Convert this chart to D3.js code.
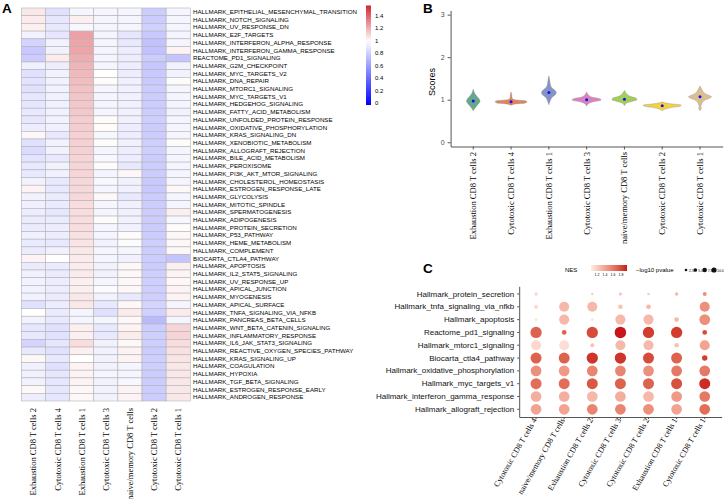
<!DOCTYPE html>
<html>
<head>
<meta charset="utf-8">
<script src="https://cdn.jsdelivr.net/npm/d3@7"></script>
<style>
  body { margin: 0; background: #fff; }
  svg text { font-family: "Liberation Sans", Arial, sans-serif; }
  .serif { font-family: "Liberation Serif", "Times New Roman", serif !important; }
</style>
</head>
<body>
<div id="chart"></div>
<script>
// ---- data ----
var cellTypes = ["Exhaustion CD8 T cells 2", "Cytotoxic CD8  T cells 4", "Exhaustion CD8 T cells 1",
    "Cytotoxic CD8  T cells 3", "naive/memory CD8 T cells", "Cytotoxic CD8  T cells 2", "Cytotoxic CD8  T cells 1"];

var heatRows = ["HALLMARK_EPITHELIAL_MESENCHYMAL_TRANSITION", "HALLMARK_NOTCH_SIGNALING", "HALLMARK_UV_RESPONSE_DN",
    "HALLMARK_E2F_TARGETS", "HALLMARK_INTERFERON_ALPHA_RESPONSE", "HALLMARK_INTERFERON_GAMMA_RESPONSE",
    "REACTOME_PD1_SIGNALING", "HALLMARK_G2M_CHECKPOINT", "HALLMARK_MYC_TARGETS_V2", "HALLMARK_DNA_REPAIR",
    "HALLMARK_MTORC1_SIGNALING", "HALLMARK_MYC_TARGETS_V1", "HALLMARK_HEDGEHOG_SIGNALING",
    "HALLMARK_FATTY_ACID_METABOLISM", "HALLMARK_UNFOLDED_PROTEIN_RESPONSE", "HALLMARK_OXIDATIVE_PHOSPHORYLATION",
    "HALLMARK_KRAS_SIGNALING_DN", "HALLMARK_XENOBIOTIC_METABOLISM", "HALLMARK_ALLOGRAFT_REJECTION",
    "HALLMARK_BILE_ACID_METABOLISM", "HALLMARK_PEROXISOME", "HALLMARK_PI3K_AKT_MTOR_SIGNALING",
    "HALLMARK_CHOLESTEROL_HOMEOSTASIS", "HALLMARK_ESTROGEN_RESPONSE_LATE", "HALLMARK_GLYCOLYSIS",
    "HALLMARK_MITOTIC_SPINDLE", "HALLMARK_SPERMATOGENESIS", "HALLMARK_ADIPOGENESIS", "HALLMARK_PROTEIN_SECRETION",
    "HALLMARK_P53_PATHWAY", "HALLMARK_HEME_METABOLISM", "HALLMARK_COMPLEMENT", "BIOCARTA_CTLA4_PATHWAY",
    "HALLMARK_APOPTOSIS", "HALLMARK_IL2_STAT5_SIGNALING", "HALLMARK_UV_RESPONSE_UP", "HALLMARK_APICAL_JUNCTION",
    "HALLMARK_MYOGENESIS", "HALLMARK_APICAL_SURFACE", "HALLMARK_TNFA_SIGNALING_VIA_NFKB",
    "HALLMARK_PANCREAS_BETA_CELLS", "HALLMARK_WNT_BETA_CATENIN_SIGNALING", "HALLMARK_INFLAMMATORY_RESPONSE",
    "HALLMARK_IL6_JAK_STAT3_SIGNALING", "HALLMARK_REACTIVE_OXYGEN_SPECIES_PATHWAY", "HALLMARK_KRAS_SIGNALING_UP",
    "HALLMARK_COAGULATION", "HALLMARK_HYPOXIA", "HALLMARK_TGF_BETA_SIGNALING", "HALLMARK_ESTROGEN_RESPONSE_EARLY",
    "HALLMARK_ANDROGEN_RESPONSE"];

// one row per pathway, columns follow cellTypes
var heatValues = [
    [1.06, 0.88, 0.96, 0.96, 0.96, 0.80, 0.96],
    [1.05, 0.90, 1.04, 0.96, 0.96, 0.80, 0.96],
    [1.04, 0.91, 0.97, 0.96, 0.96, 0.82, 0.96],
    [0.95, 0.90, 1.24, 0.96, 0.90, 0.79, 0.96],
    [0.83, 0.95, 1.23, 0.96, 0.91, 0.76, 0.96],
    [0.79, 0.95, 1.23, 0.96, 0.93, 0.76, 1.03],
    [0.80, 1.05, 1.21, 0.96, 0.93, 0.80, 0.77],
    [0.94, 0.93, 1.19, 0.96, 0.93, 0.78, 0.95],
    [0.88, 0.95, 1.18, 1.00, 0.93, 0.79, 0.95],
    [0.89, 0.95, 1.17, 1.01, 0.94, 0.79, 1.01],
    [0.88, 0.95, 1.16, 0.96, 0.94, 0.80, 0.96],
    [0.90, 0.94, 1.15, 0.96, 0.94, 0.80, 0.96],
    [0.90, 0.94, 1.14, 0.96, 0.94, 0.80, 0.96],
    [0.91, 0.94, 1.14, 0.96, 0.94, 0.80, 0.95],
    [0.90, 0.95, 1.13, 1.01, 0.94, 0.81, 0.96],
    [0.93, 0.94, 1.13, 1.01, 0.93, 0.80, 0.96],
    [1.02, 0.91, 1.12, 0.97, 0.93, 0.80, 0.96],
    [0.88, 0.95, 1.12, 1.01, 0.94, 0.81, 1.01],
    [0.86, 0.95, 1.12, 0.96, 0.93, 0.81, 0.96],
    [0.89, 0.91, 1.11, 0.97, 0.93, 0.80, 0.96],
    [0.91, 0.95, 1.11, 1.01, 0.91, 0.80, 0.96],
    [0.91, 0.95, 1.11, 0.96, 1.02, 0.80, 0.96],
    [0.95, 0.91, 1.10, 0.97, 0.94, 0.79, 0.96],
    [1.03, 0.91, 1.10, 0.96, 0.94, 0.79, 1.02],
    [0.95, 0.92, 1.10, 1.02, 0.91, 0.80, 0.96],
    [0.94, 0.92, 1.09, 0.96, 0.94, 0.80, 0.96],
    [0.93, 0.90, 1.09, 0.96, 0.94, 0.80, 1.04],
    [0.92, 0.92, 1.09, 1.01, 0.94, 0.80, 0.97],
    [0.92, 0.93, 1.09, 0.96, 0.94, 0.80, 1.01],
    [0.94, 0.93, 1.08, 0.96, 1.01, 0.80, 1.02],
    [0.92, 0.91, 1.07, 0.95, 0.99, 0.81, 1.02],
    [0.92, 0.94, 1.06, 0.96, 0.96, 0.80, 1.02],
    [1.03, 1.00, 1.05, 0.96, 0.94, 0.80, 0.77],
    [0.92, 0.92, 1.05, 0.95, 1.02, 0.80, 1.04],
    [0.94, 0.92, 1.05, 0.95, 1.02, 0.81, 1.03],
    [0.95, 0.93, 1.04, 0.96, 1.02, 0.81, 1.02],
    [0.95, 0.93, 1.04, 0.98, 1.02, 0.81, 1.03],
    [0.95, 0.92, 1.06, 0.95, 0.91, 0.81, 1.03],
    [0.88, 0.93, 1.06, 0.91, 1.02, 0.83, 0.96],
    [1.00, 0.92, 0.96, 0.88, 1.05, 0.82, 1.05],
    [0.95, 0.91, 0.96, 0.96, 1.02, 0.73, 0.96],
    [0.90, 0.88, 1.04, 0.91, 1.03, 0.80, 1.11],
    [0.91, 0.88, 1.04, 0.91, 1.05, 0.81, 1.11],
    [0.83, 0.90, 1.09, 0.95, 1.02, 0.81, 1.09],
    [0.91, 0.88, 1.04, 0.95, 1.03, 0.80, 1.08],
    [1.02, 0.91, 1.00, 0.95, 1.03, 0.81, 1.07],
    [0.94, 0.88, 1.03, 0.95, 0.96, 0.81, 1.06],
    [0.94, 0.90, 1.03, 0.96, 0.96, 0.80, 1.06],
    [0.95, 0.90, 1.03, 0.95, 0.97, 0.80, 1.06],
    [1.02, 0.90, 1.02, 0.95, 1.03, 0.80, 1.06],
    [0.93, 0.90, 1.02, 0.95, 1.03, 0.80, 1.06]
];
var heatLegendTicks = [0, 0.2, 0.4, 0.6, 0.8, 1, 1.2, 1.4];

// violin density profiles: [score, density]
var violinProfiles = [
    [[0.74,0],[0.80,0.08],[0.88,0.22],[0.95,0.33],[1.00,0.32],[1.07,0.2],[1.15,0.07],[1.25,0]],
    [[0.87,0],[0.90,0.2],[0.925,0.72],[0.95,0.8],[0.975,0.7],[1.0,0.18],[1.03,0.06],[1.08,0.04],[1.13,0.03],[1.18,0]],
    [[0.88,0],[0.95,0.05],[1.05,0.15],[1.12,0.33],[1.17,0.37],[1.22,0.3],[1.30,0.12],[1.40,0.06],[1.50,0.03],[1.56,0]],
    [[0.85,0],[0.90,0.07],[0.95,0.32],[0.98,0.66],[1.00,0.73],[1.03,0.6],[1.07,0.2],[1.12,0.07],[1.18,0]],
    [[0.86,0],[0.92,0.1],[0.97,0.45],[1.00,0.62],[1.03,0.6],[1.08,0.28],[1.14,0.1],[1.22,0]],
    [[0.74,0],[0.78,0.15],[0.82,0.5],[0.85,0.9],[0.87,0.95],[0.90,0.5],[0.93,0.1],[0.95,0]],
    [[0.74,0],[0.78,0.05],[0.80,0.07],[0.83,0.04],[0.90,0.08],[0.98,0.2],[1.04,0.5],[1.07,0.58],[1.10,0.45],[1.16,0.2],[1.25,0.08],[1.32,0]]
];
var violinMeans = [0.97, 0.95, 1.17, 1.00, 1.01, 0.86, 1.07];
var violinColors = ["#66a98a", "#e3845a", "#8593c6", "#da82c0", "#a2cf55", "#f4d23a", "#dcbf8f"];
var scoreTicks = [0, 1, 2, 3];

// dot plot
var dotCols = ["Cytotoxic CD8  T cells 4", "naive/memory CD8 T cells", "Exhaustion CD8 T cells 2",
    "Cytotoxic CD8  T cells 3", "Cytotoxic CD8  T cells 2", "Exhaustion CD8 T cells 1", "Cytotoxic CD8  T cells 1"];
var dotRows = ["Hallmark_protein_secretion", "Hallmark_tnfa_signaling_via_nfkb", "Hallmark_apoptosis",
    "Reactome_pd1_signaling", "Hallmark_mtorc1_signaling", "Biocarta_ctla4_pathway",
    "Hallmark_oxidative_phosphorylation", "Hallmark_myc_targets_v1", "Hallmark_interferon_gamma_response",
    "Hallmark_allograft_rejection"];
var dotNES = [
    [1.15, null, 1.20, 1.25, 1.20, 1.30, 1.50],
    [1.15, 1.30, 1.30, 1.25, 1.30, null, 1.50],
    [1.10, 1.30, 1.10, 1.30, 1.30, 1.30, 1.50],
    [1.70, 1.70, 1.80, 1.95, 1.85, 1.85, 1.80],
    [1.15, 1.12, 1.25, 1.30, 1.30, 1.25, 1.40],
    [1.70, 1.70, 1.88, 1.88, 1.80, 1.70, 1.85],
    [1.50, 1.45, 1.55, 1.55, 1.50, 1.60, 1.60],
    [1.65, 1.65, 1.75, 1.70, 1.70, 1.78, 1.90],
    [1.35, 1.35, 1.30, 1.35, 1.30, 1.45, 1.60],
    [1.40, 1.40, 1.55, 1.55, 1.50, 1.40, 1.65]
];
var dotLogP = [
    [0.9, null, 0.5, 0.7, 0.5, 0.9, 1.2],
    [1.2, 7.5, 7.5, 1.6, 1.6, null, 7.5],
    [0.5, 7.5, 0.5, 7.5, 7.5, 1.6, 8.5],
    [9.5, 1.6, 9.5, 9.8, 9.5, 9.5, 1.6],
    [7.5, 7.5, 1.2, 7.5, 7.5, 1.6, 7.5],
    [9.0, 9.0, 9.5, 9.5, 9.0, 9.0, 2.2],
    [8.5, 8.5, 8.5, 8.5, 8.5, 8.5, 8.5],
    [9.0, 9.0, 9.0, 9.0, 9.0, 9.0, 9.0],
    [8.5, 8.5, 8.5, 8.5, 8.5, 8.5, 8.5],
    [8.5, 8.5, 8.5, 8.5, 8.5, 8.5, 8.5]
];
var nesTicks = [1.2, 1.4, 1.6, 1.8];
var pTicks = [2.5, 5.0, 7.5, 10.0];

// ---- drawing ----
var svg = d3.select("#chart").append("svg")
    .attr("width", 724)
    .attr("height", 499);

function panelLetter(t, x, y) {
    svg.append("text").attr("x", x).attr("y", y).text(t)
        .attr("font-size", 13.5).attr("font-weight", "bold");
}

// Panel A: heatmap
panelLetter("A", 2, 12.5);
var hx = d3.scaleBand().domain(cellTypes).range([21.3, 190.3]);
var hy = d3.scaleBand().domain(heatRows).range([8, 401]);
var heatColor = d3.scaleLinear().domain([0, 1, 1.56]).range(["#0000ff", "#ffffff", "#d42430"]);

var gA = svg.append("g");
heatRows.forEach(function(r, i) {
    gA.selectAll(".row" + i).data(heatValues[i]).enter().append("rect")
        .attr("x", function(d, j) { return hx(cellTypes[j]); })
        .attr("y", hy(r))
        .attr("width", hx.bandwidth())
        .attr("height", hy.bandwidth())
        .attr("fill", function(d) { return heatColor(d); })
        .attr("stroke", "#b4b4b4")
        .attr("stroke-width", 0.6);
});
gA.selectAll(".rlab").data(heatRows).enter().append("text")
    .attr("x", 193)
    .attr("y", function(d) { return hy(d) + hy.bandwidth() / 2; })
    .attr("dy", "0.35em")
    .attr("font-size", 6.2)
    .text(function(d) { return d; });
gA.selectAll(".clab").data(cellTypes).enter().append("text")
    .attr("class", "serif")
    .attr("transform", function(d) { return "translate(" + (hx(d) + hx.bandwidth() / 2 + 3) + ",408) rotate(-90)"; })
    .attr("text-anchor", "end")
    .attr("font-size", 8.5)
    .text(function(d) { return d; });

// heatmap legend
var defs = svg.append("defs");
var lgA = defs.append("linearGradient").attr("id", "gradA")
    .attr("x1", 0).attr("y1", 1).attr("x2", 0).attr("y2", 0);
d3.range(0, 1.0001, 0.05).forEach(function(t) {
    lgA.append("stop").attr("offset", t).attr("stop-color", heatColor(t * 1.56));
});
var legAy = d3.scaleLinear().domain([0, 1.56]).range([103, 5.5]);
svg.append("rect").attr("x", 366).attr("y", legAy(1.56)).attr("width", 5)
    .attr("height", legAy(0) - legAy(1.56) + 2).attr("fill", "url(#gradA)");
svg.selectAll(".legA").data(heatLegendTicks).enter().append("text")
    .attr("x", 375).attr("y", function(d) { return legAy(d); })
    .attr("dy", "0.35em").attr("font-size", 6)
    .text(function(d) { return d; });

// Panel B: violins
panelLetter("B", 423, 13);
var bx = d3.scaleBand().domain(cellTypes).range([450.6, 722.7]).paddingInner(0).paddingOuter(0.1);
var by = d3.scaleLinear().domain([-0.1, 3.1]).range([146.5, 10.4]);
var bw = d3.scaleLinear().domain([0, 1]).range([0, 20]);

var gB = svg.append("g");
gB.append("g").attr("transform", "translate(450.6,0)")
    .call(d3.axisLeft(by).tickValues(scoreTicks).tickSize(3).tickSizeOuter(0).tickFormat(d3.format("d")))
    .call(function(g) {
        g.select(".domain").attr("stroke", "#555");
        g.selectAll(".tick line").attr("stroke", "#555");
        g.selectAll("text").attr("font-size", 7).attr("fill", "#4d4d4d");
    });
gB.append("g").attr("transform", "translate(0,146.5)")
    .call(d3.axisBottom(bx).tickSize(3).tickSizeOuter(0).tickFormat(""))
    .call(function(g) {
        g.select(".domain").attr("stroke", "#555");
        g.selectAll(".tick line").attr("stroke", "#555");
    });
gB.append("text")
    .attr("transform", "translate(435,82) rotate(-90)")
    .attr("text-anchor", "middle").attr("font-size", 9)
    .text("Scores");

cellTypes.forEach(function(c, i) {
    var cx = bx(c) + bx.bandwidth() / 2;
    var area = d3.area()
        .y(function(d) { return by(d[0]); })
        .x0(function(d) { return cx - bw(d[1]); })
        .x1(function(d) { return cx + bw(d[1]); })
        .curve(d3.curveCatmullRom);
    gB.append("path").datum(violinProfiles[i])
        .attr("d", area)
        .attr("fill", violinColors[i])
        .attr("stroke", "#8a8a8a")
        .attr("stroke-width", 0.4);
    gB.append("circle").attr("cx", cx).attr("cy", by(violinMeans[i]))
        .attr("r", 1.5).attr("fill", "#1010ff");
});
gB.selectAll(".blab").data(cellTypes).enter().append("text")
    .attr("class", "serif")
    .attr("transform", function(d) { return "translate(" + (bx(d) + bx.bandwidth() / 2 + 3) + ",152) rotate(-90)"; })
    .attr("text-anchor", "end")
    .attr("font-size", 8.5)
    .text(function(d) { return d; });

// Panel C: dot plot
panelLetter("C", 423, 273);
var cx = d3.scaleBand().domain(dotCols).range([519.2, 721.6]).paddingInner(0).paddingOuter(0.1);
var cy = d3.scaleBand().domain(dotRows).range([286.3, 417]).paddingInner(0).paddingOuter(0.1);
var nesColor = d3.scaleLinear().domain([1.05, 1.95]).range(["#fcece6", "#c8171c"]).interpolate(d3.interpolateLab);
var rScale = d3.scaleSqrt().domain([0, 10]).range([0, 5.8]);

var gC = svg.append("g");
gC.append("g").attr("transform", "translate(519.2,0)")
    .call(d3.axisLeft(cy).tickSize(2).tickSizeOuter(0))
    .call(function(g) {
        g.select(".domain").attr("stroke", "#555");
        g.selectAll(".tick line").attr("stroke", "#555");
        g.selectAll("text").attr("font-size", 8).attr("fill", "#111");
    });
gC.append("g").attr("transform", "translate(0,417)")
    .call(d3.axisBottom(cx).tickSize(2).tickSizeOuter(0).tickFormat(""))
    .call(function(g) {
        g.select(".domain").attr("stroke", "#555");
        g.selectAll(".tick line").attr("stroke", "#555");
    });
dotRows.forEach(function(r, i) {
    gC.selectAll(".drow" + i).data(dotCols.map(function(c, j) { return { c: c, nes: dotNES[i][j], p: dotLogP[i][j] }; })
            .filter(function(d) { return d.nes != null; }))
        .enter().append("circle")
        .attr("cx", function(d) { return cx(d.c) + cx.bandwidth() / 2; })
        .attr("cy", cy(r) + cy.bandwidth() / 2)
        .attr("r", function(d) { return rScale(d.p); })
        .attr("fill", function(d) { return nesColor(d.nes); });
});
gC.selectAll(".clab").data(dotCols).enter().append("text")
    .attr("class", "serif")
    .attr("transform", function(d) { return "translate(" + (cx(d) + cx.bandwidth() / 2 + 1) + ",420) rotate(-60)"; })
    .attr("text-anchor", "end")
    .attr("font-size", 8)
    .text(function(d) { return d; });

// legends for C
var legY = 270;
svg.append("text").attr("x", 565).attr("y", legY + 2).attr("font-size", 6).text("NES");
var lgC = defs.append("linearGradient").attr("id", "gradC");
d3.range(0, 1.0001, 0.1).forEach(function(t) {
    lgC.append("stop").attr("offset", t).attr("stop-color", nesColor(1.05 + t * 0.9));
});
var legCx = d3.scaleLinear().domain([1.05, 1.95]).range([591, 627]);
svg.append("rect").attr("x", 591).attr("y", legY - 5).attr("width", 36).attr("height", 6).attr("fill", "url(#gradC)");
svg.selectAll(".legC").data(nesTicks).enter().append("text")
    .attr("x", function(d) { return legCx(d); }).attr("y", legY + 6)
    .attr("text-anchor", "middle").attr("font-size", 3.5)
    .text(function(d) { return d.toFixed(1); });

svg.append("text").attr("x", 636).attr("y", legY + 2).attr("font-size", 6).text("\u2212log10 pvalue");
var legPx = d3.scalePoint().domain(pTicks).range([686, 714]);
svg.selectAll(".legP").data(pTicks).enter().append("circle")
    .attr("cx", function(d) { return legPx(d); }).attr("cy", legY)
    .attr("r", function(d) { return rScale(d) * 0.45; }).attr("fill", "#111");
svg.selectAll(".legPt").data(pTicks).enter().append("text")
    .attr("x", function(d) { return legPx(d) + 3; }).attr("y", legY + 1.5)
    .attr("font-size", 3.5)
    .text(function(d) { return d.toFixed(1); });
</script>
</body>
</html>
